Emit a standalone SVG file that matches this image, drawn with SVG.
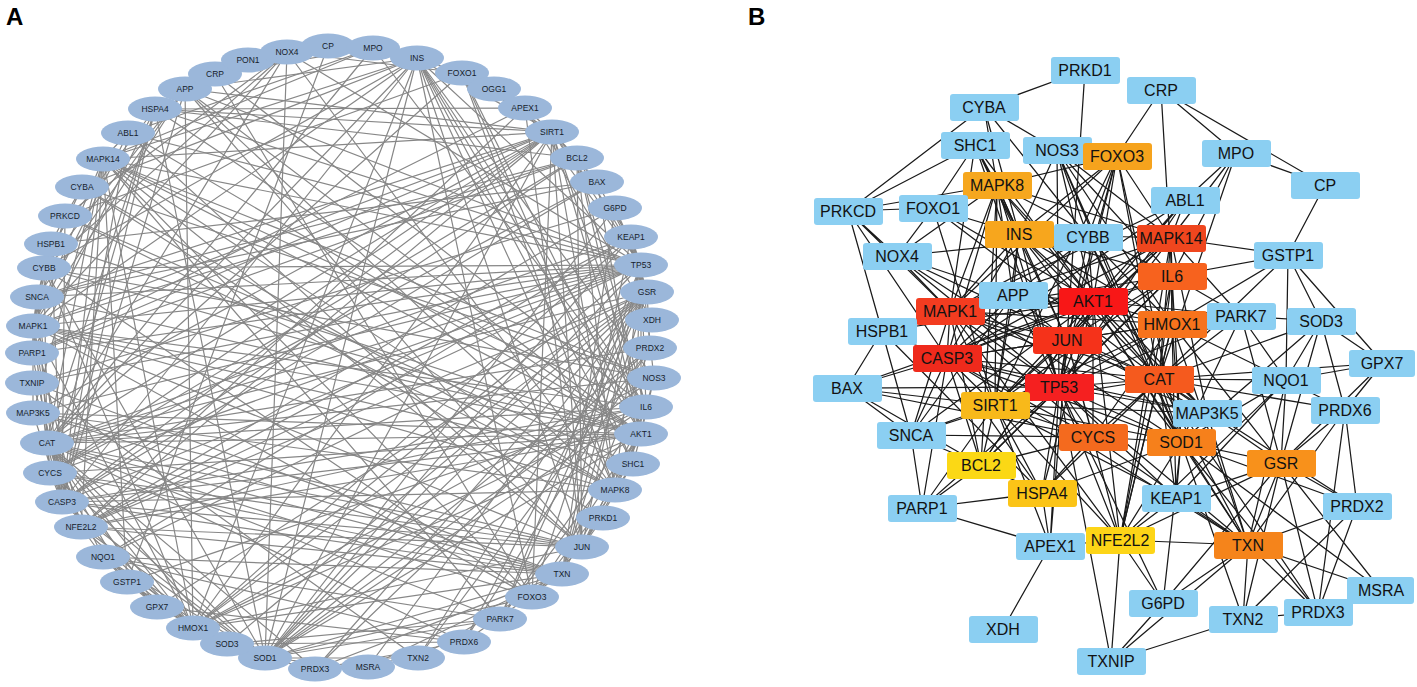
<svg xmlns="http://www.w3.org/2000/svg" width="1417" height="687" viewBox="0 0 1417 687">
<style>
.ea{fill:none;stroke:#878787;stroke-width:1.2}
.eb{fill:none;stroke:#1a1a1a;stroke-width:1.25}
.na ellipse{fill:#9bb7da}
.na text{font-family:"Liberation Sans",Arial,sans-serif;font-size:8.5px;fill:#161d2b;text-anchor:middle}
.nb rect{fill:#8bcff2}
.nb text{font-family:"Liberation Sans",Arial,sans-serif;font-size:16px;fill:#121212;text-anchor:middle}
.lab{font-family:"Liberation Sans",Arial,sans-serif;font-size:24px;font-weight:bold;fill:#000}
</style>
<rect width="1417" height="687" fill="#fff"/>
<text class="lab" x="6" y="25">A</text>
<text class="lab" x="748" y="25">B</text>
<g id="edges-A" class="ea">
<path d="M641 434L641 265M641 434L582 547M641 434L62 502M641 434L33 326M641 434L646 407M641 434L103 159M641 434L47 443M641 434L193 628M641 434L50 473M641 434L265 658M641 434L417 58M641 434L615 490M641 434L532 597M641 434L552 132M641 434L577 158M641 434L155 109M641 434L81 527M641 434L562 574"/>
<path d="M641 265L582 547M641 265L62 502M641 265L33 326M641 265L646 407M641 265L103 159M641 265L47 443M641 265L193 628M641 265L50 473M641 265L265 658M641 265L417 58M641 265L615 490M641 265L532 597M641 265L552 132M641 265L577 158M641 265L155 109M641 265L81 527M641 265L562 574"/>
<path d="M582 547L62 502M582 547L33 326M582 547L646 407M582 547L103 159M582 547L47 443M582 547L193 628M582 547L50 473M582 547L417 58M582 547L615 490M582 547L532 597M582 547L552 132M582 547L577 158M582 547L81 527"/>
<path d="M62 502L33 326M62 502L646 407M62 502L103 159M62 502L47 443M62 502L193 628M62 502L50 473M62 502L265 658M62 502L417 58M62 502L615 490M62 502L552 132M62 502L577 158M62 502L155 109M62 502L562 574"/>
<path d="M33 326L646 407M33 326L103 159M33 326L47 443M33 326L193 628M33 326L50 473M33 326L417 58M33 326L615 490M33 326L532 597M33 326L552 132M33 326L577 158M33 326L81 527"/>
<path d="M646 407L103 159M646 407L47 443M646 407L193 628M646 407L265 658M646 407L417 58M646 407L615 490M646 407L552 132M646 407L577 158M646 407L81 527"/>
<path d="M103 159L47 443M103 159L193 628M103 159L417 58M103 159L615 490M103 159L532 597M103 159L552 132M103 159L81 527"/>
<path d="M47 443L193 628M47 443L50 473M47 443L265 658M47 443L417 58M47 443L552 132M47 443L155 109M47 443L81 527M47 443L562 574M47 443L647 292M47 443L532 597"/>
<path d="M193 628L265 658M193 628L417 58M193 628L552 132M193 628L81 527M193 628L562 574M193 628L647 292M193 628L50 473"/>
<path d="M50 473L265 658M50 473L552 132M50 473L577 158M50 473L155 109M50 473L562 574"/>
<path d="M265 658L417 58M265 658L552 132M265 658L81 527M265 658L562 574M265 658L647 292M265 658L155 109M265 658L532 597"/>
<path d="M417 58L615 490M417 58L532 597M417 58L552 132M615 490L532 597M615 490L552 132M615 490L577 158M552 132L577 158M552 132L155 109M552 132L81 527M552 132L532 597M577 158L155 109M81 527L562 574M81 527L647 292"/>
<path d="M562 574L647 292M562 574L368 667M562 574L418 658M562 574L315 669M562 574L615 208M562 574L32 383"/>
<path d="M603 518L82 187M603 518L582 547"/>
<path d="M82 187L65 216M82 187L615 490M82 187L654 378M82 187L44 268M82 187L417 58"/>
<path d="M633 464L65 216M633 464L462 73M633 464L615 490M633 464L417 58M633 464L641 434M633 464L33 326M633 464L641 265M633 464L582 547"/>
<path d="M654 378L417 58M654 378L641 434M654 378L44 268M654 378L47 443M654 378L265 658M654 378L193 628M654 378L646 407M654 378L641 265M654 378L103 159"/>
<path d="M215 74L532 597M215 74L646 407M215 74L373 48M215 74L328 46"/>
<path d="M373 48L128 133M373 48L103 159M373 48L646 407M373 48L328 46M373 48L47 443M328 46L127 582"/>
<path d="M128 133L103 159M128 133L641 434M128 133L641 265M128 133L582 547M128 133L33 326M128 133L62 502"/>
<path d="M65 216L462 73M65 216L615 490M65 216L51 244M65 216L33 326M65 216L287 52M65 216L62 502"/>
<path d="M462 73L615 490M462 73L417 58M462 73L641 434M462 73L287 52M462 73L552 132M462 73L47 443"/>
<path d="M44 268L417 58M44 268L287 52M44 268L185 89M44 268L641 434M44 268L47 443M44 268L193 628M44 268L265 658M44 268L641 265M44 268L33 326M44 268L532 597"/>
<path d="M127 582L103 159M127 582L646 407M127 582L193 628M127 582L103 557M127 582L227 644M127 582L157 607M127 582L47 443"/>
<path d="M287 52L185 89M287 52L33 326M287 52L641 265M287 52L47 443M287 52L265 658M287 52L615 490"/>
<path d="M185 89L417 58M185 89L641 434M185 89L33 326M185 89L62 502M185 89L641 265M185 89L582 547M185 89L37 297M185 89L615 490M185 89L552 132M185 89L193 628"/>
<path d="M500 619L103 159M500 619L227 644M500 619L646 407M500 619L103 557M500 619L647 292M500 619L265 658M500 619L47 443M500 619L641 434M500 619L641 265"/>
<path d="M227 644L265 658M227 644L47 443M227 644L157 607M227 644L103 557M227 644L647 292M227 644L464 642"/>
<path d="M51 244L33 326M51 244L641 434M51 244L62 502M51 244L37 297M51 244L597 182M51 244L155 109"/>
<path d="M157 607L103 557M157 607L647 292M157 607L47 443M157 607L464 642"/>
<path d="M103 557L47 443M103 557L81 527M103 557L647 292M103 557L631 237M103 557L193 628M103 557L562 574M103 557L265 658M103 557L464 642"/>
<path d="M597 182L62 502M597 182L641 265M597 182L577 158M597 182L37 297M597 182L641 434M597 182L50 473M597 182L552 132"/>
<path d="M33 413L562 574M33 413L582 547M33 413L103 159M33 413L615 490M33 413L62 502M33 413L641 434M33 413L641 265M33 413L33 326M33 413L552 132"/>
<path d="M464 642L650 348M464 642L647 292M464 642L562 574M464 642L315 669M464 642L47 443"/>
<path d="M37 297L62 502M37 297L32 353M37 297L50 473M37 297L577 158M37 297L641 434M37 297L33 326M37 297L552 132M37 297L641 265"/>
<path d="M647 292L650 348M647 292L368 667M647 292L418 658M647 292L615 208M647 292L315 669"/>
<path d="M32 353L577 158M32 353L155 109M32 353L525 108M32 353L62 502M32 353L552 132M32 353L641 265"/>
<path d="M631 237L81 527M631 237L265 658M631 237L562 574M631 237L47 443M631 237L193 628M631 237L552 132M631 237L641 265M631 237L647 292"/>
<path d="M650 348L562 574M650 348L418 658M650 348L315 669M650 348L47 443M650 348L265 658"/>
<path d="M525 108L652 320M525 108L155 109M525 108L552 132M525 108L641 265M525 108L81 527M525 108L582 547"/>
<path d="M368 667L315 669M368 667L265 658M615 208L32 383M615 208L81 527M615 208L265 658M615 208L641 265M418 658L315 669M418 658L32 383M418 658L265 658M32 383L81 527M32 383L641 265M315 669L265 658M315 669L47 443"/>
</g>
<g id="nodes-A">
<g id="A-CP" class="na"><ellipse cx="328" cy="46" rx="27" ry="12.5"/><text x="328" y="49">CP</text></g>
<g id="A-MPO" class="na"><ellipse cx="373" cy="48" rx="27" ry="12.5"/><text x="373" y="51">MPO</text></g>
<g id="A-INS" class="na"><ellipse cx="417" cy="58" rx="27" ry="12.5"/><text x="417" y="61">INS</text></g>
<g id="A-FOXO1" class="na"><ellipse cx="462" cy="73" rx="27" ry="12.5"/><text x="462" y="76">FOXO1</text></g>
<g id="A-OGG1" class="na"><ellipse cx="494" cy="89" rx="27" ry="12.5"/><text x="494" y="92">OGG1</text></g>
<g id="A-APEX1" class="na"><ellipse cx="525" cy="108" rx="27" ry="12.5"/><text x="525" y="111">APEX1</text></g>
<g id="A-SIRT1" class="na"><ellipse cx="552" cy="132" rx="27" ry="12.5"/><text x="552" y="135">SIRT1</text></g>
<g id="A-BCL2" class="na"><ellipse cx="577" cy="158" rx="27" ry="12.5"/><text x="577" y="161">BCL2</text></g>
<g id="A-BAX" class="na"><ellipse cx="597" cy="182" rx="27" ry="12.5"/><text x="597" y="185">BAX</text></g>
<g id="A-G6PD" class="na"><ellipse cx="615" cy="208" rx="27" ry="12.5"/><text x="615" y="211">G6PD</text></g>
<g id="A-KEAP1" class="na"><ellipse cx="631" cy="237" rx="27" ry="12.5"/><text x="631" y="240">KEAP1</text></g>
<g id="A-TP53" class="na"><ellipse cx="641" cy="265" rx="27" ry="12.5"/><text x="641" y="268">TP53</text></g>
<g id="A-GSR" class="na"><ellipse cx="647" cy="292" rx="27" ry="12.5"/><text x="647" y="295">GSR</text></g>
<g id="A-XDH" class="na"><ellipse cx="652" cy="320" rx="27" ry="12.5"/><text x="652" y="323">XDH</text></g>
<g id="A-PRDX2" class="na"><ellipse cx="650" cy="348" rx="27" ry="12.5"/><text x="650" y="351">PRDX2</text></g>
<g id="A-NOS3" class="na"><ellipse cx="654" cy="378" rx="27" ry="12.5"/><text x="654" y="381">NOS3</text></g>
<g id="A-IL6" class="na"><ellipse cx="646" cy="407" rx="27" ry="12.5"/><text x="646" y="410">IL6</text></g>
<g id="A-AKT1" class="na"><ellipse cx="641" cy="434" rx="27" ry="12.5"/><text x="641" y="437">AKT1</text></g>
<g id="A-SHC1" class="na"><ellipse cx="633" cy="464" rx="27" ry="12.5"/><text x="633" y="467">SHC1</text></g>
<g id="A-MAPK8" class="na"><ellipse cx="615" cy="490" rx="27" ry="12.5"/><text x="615" y="493">MAPK8</text></g>
<g id="A-PRKD1" class="na"><ellipse cx="603" cy="518" rx="27" ry="12.5"/><text x="603" y="521">PRKD1</text></g>
<g id="A-JUN" class="na"><ellipse cx="582" cy="547" rx="27" ry="12.5"/><text x="582" y="550">JUN</text></g>
<g id="A-TXN" class="na"><ellipse cx="562" cy="574" rx="27" ry="12.5"/><text x="562" y="577">TXN</text></g>
<g id="A-FOXO3" class="na"><ellipse cx="532" cy="597" rx="27" ry="12.5"/><text x="532" y="600">FOXO3</text></g>
<g id="A-PARK7" class="na"><ellipse cx="500" cy="619" rx="27" ry="12.5"/><text x="500" y="622">PARK7</text></g>
<g id="A-PRDX6" class="na"><ellipse cx="464" cy="642" rx="27" ry="12.5"/><text x="464" y="645">PRDX6</text></g>
<g id="A-TXN2" class="na"><ellipse cx="418" cy="658" rx="27" ry="12.5"/><text x="418" y="661">TXN2</text></g>
<g id="A-MSRA" class="na"><ellipse cx="368" cy="667" rx="27" ry="12.5"/><text x="368" y="670">MSRA</text></g>
<g id="A-PRDX3" class="na"><ellipse cx="315" cy="669" rx="27" ry="12.5"/><text x="315" y="672">PRDX3</text></g>
<g id="A-SOD1" class="na"><ellipse cx="265" cy="658" rx="27" ry="12.5"/><text x="265" y="661">SOD1</text></g>
<g id="A-SOD3" class="na"><ellipse cx="227" cy="644" rx="27" ry="12.5"/><text x="227" y="647">SOD3</text></g>
<g id="A-HMOX1" class="na"><ellipse cx="193" cy="628" rx="27" ry="12.5"/><text x="193" y="631">HMOX1</text></g>
<g id="A-GPX7" class="na"><ellipse cx="157" cy="607" rx="27" ry="12.5"/><text x="157" y="610">GPX7</text></g>
<g id="A-GSTP1" class="na"><ellipse cx="127" cy="582" rx="27" ry="12.5"/><text x="127" y="585">GSTP1</text></g>
<g id="A-NQO1" class="na"><ellipse cx="103" cy="557" rx="27" ry="12.5"/><text x="103" y="560">NQO1</text></g>
<g id="A-NFE2L2" class="na"><ellipse cx="81" cy="527" rx="27" ry="12.5"/><text x="81" y="530">NFE2L2</text></g>
<g id="A-CASP3" class="na"><ellipse cx="62" cy="502" rx="27" ry="12.5"/><text x="62" y="505">CASP3</text></g>
<g id="A-CYCS" class="na"><ellipse cx="50" cy="473" rx="27" ry="12.5"/><text x="50" y="476">CYCS</text></g>
<g id="A-CAT" class="na"><ellipse cx="47" cy="443" rx="27" ry="12.5"/><text x="47" y="446">CAT</text></g>
<g id="A-MAP3K5" class="na"><ellipse cx="33" cy="413" rx="27" ry="12.5"/><text x="33" y="416">MAP3K5</text></g>
<g id="A-TXNIP" class="na"><ellipse cx="32" cy="383" rx="27" ry="12.5"/><text x="32" y="386">TXNIP</text></g>
<g id="A-PARP1" class="na"><ellipse cx="32" cy="353" rx="27" ry="12.5"/><text x="32" y="356">PARP1</text></g>
<g id="A-MAPK1" class="na"><ellipse cx="33" cy="326" rx="27" ry="12.5"/><text x="33" y="329">MAPK1</text></g>
<g id="A-SNCA" class="na"><ellipse cx="37" cy="297" rx="27" ry="12.5"/><text x="37" y="300">SNCA</text></g>
<g id="A-CYBB" class="na"><ellipse cx="44" cy="268" rx="27" ry="12.5"/><text x="44" y="271">CYBB</text></g>
<g id="A-HSPB1" class="na"><ellipse cx="51" cy="244" rx="27" ry="12.5"/><text x="51" y="247">HSPB1</text></g>
<g id="A-PRKCD" class="na"><ellipse cx="65" cy="216" rx="27" ry="12.5"/><text x="65" y="219">PRKCD</text></g>
<g id="A-CYBA" class="na"><ellipse cx="82" cy="187" rx="27" ry="12.5"/><text x="82" y="190">CYBA</text></g>
<g id="A-MAPK14" class="na"><ellipse cx="103" cy="159" rx="27" ry="12.5"/><text x="103" y="162">MAPK14</text></g>
<g id="A-ABL1" class="na"><ellipse cx="128" cy="133" rx="27" ry="12.5"/><text x="128" y="136">ABL1</text></g>
<g id="A-HSPA4" class="na"><ellipse cx="155" cy="109" rx="27" ry="12.5"/><text x="155" y="112">HSPA4</text></g>
<g id="A-APP" class="na"><ellipse cx="185" cy="89" rx="27" ry="12.5"/><text x="185" y="92">APP</text></g>
<g id="A-CRP" class="na"><ellipse cx="215" cy="74" rx="27" ry="12.5"/><text x="215" y="77">CRP</text></g>
<g id="A-PON1" class="na"><ellipse cx="248" cy="60" rx="27" ry="12.5"/><text x="248" y="63">PON1</text></g>
<g id="A-NOX4" class="na"><ellipse cx="287" cy="52" rx="27" ry="12.5"/><text x="287" y="55">NOX4</text></g>
</g>
<g id="edges-B" class="eb">
<path d="M1093 301L1059 387M1093 301L1067 340M1093 301L947 358M1093 301L950 311M1093 301L1172 276M1093 301L1171 238M1093 301L1159 379M1093 301L1172 324M1093 301L1093 437M1093 301L1181 442M1093 301L1019 234M1093 301L997 185M1093 301L1117 156M1093 301L995 405M1093 301L981 465M1093 301L1042 493M1093 301L1120 540M1093 301L1248 545"/>
<path d="M1059 387L1067 340M1059 387L947 358M1059 387L950 311M1059 387L1172 276M1059 387L1171 238M1059 387L1159 379M1059 387L1172 324M1059 387L1093 437M1059 387L1181 442M1059 387L1019 234M1059 387L997 185M1059 387L1117 156M1059 387L995 405M1059 387L981 465M1059 387L1042 493M1059 387L1120 540M1059 387L1248 545"/>
<path d="M1067 340L947 358M1067 340L950 311M1067 340L1172 276M1067 340L1171 238M1067 340L1159 379M1067 340L1172 324M1067 340L1093 437M1067 340L1019 234M1067 340L997 185M1067 340L1117 156M1067 340L995 405M1067 340L981 465M1067 340L1120 540"/>
<path d="M947 358L950 311M947 358L1172 276M947 358L1171 238M947 358L1159 379M947 358L1172 324M947 358L1093 437M947 358L1181 442M947 358L1019 234M947 358L997 185M947 358L995 405M947 358L981 465M947 358L1042 493M947 358L1248 545"/>
<path d="M950 311L1172 276M950 311L1171 238M950 311L1159 379M950 311L1172 324M950 311L1093 437M950 311L1019 234M950 311L997 185M950 311L1117 156M950 311L995 405M950 311L981 465M950 311L1120 540"/>
<path d="M1172 276L1171 238M1172 276L1159 379M1172 276L1172 324M1172 276L1181 442M1172 276L1019 234M1172 276L997 185M1172 276L995 405M1172 276L981 465M1172 276L1120 540"/>
<path d="M1171 238L1159 379M1171 238L1172 324M1171 238L1019 234M1171 238L997 185M1171 238L1117 156M1171 238L995 405M1171 238L1120 540"/>
<path d="M1159 379L1172 324M1159 379L1093 437M1159 379L1181 442M1159 379L1019 234M1159 379L995 405M1159 379L1042 493M1159 379L1120 540M1159 379L1248 545M1159 379L1281 463M1159 379L1117 156"/>
<path d="M1172 324L1181 442M1172 324L1019 234M1172 324L995 405M1172 324L1120 540M1172 324L1248 545M1172 324L1281 463M1172 324L1093 437"/>
<path d="M1093 437L1181 442M1093 437L995 405M1093 437L981 465M1093 437L1042 493M1093 437L1248 545"/>
<path d="M1181 442L1019 234M1181 442L995 405M1181 442L1120 540M1181 442L1248 545M1181 442L1281 463M1181 442L1042 493M1181 442L1117 156"/>
<path d="M1019 234L997 185M1019 234L1117 156M1019 234L995 405M997 185L1117 156M997 185L995 405M997 185L981 465M995 405L981 465M995 405L1042 493M995 405L1120 540M995 405L1117 156M981 465L1042 493M1120 540L1248 545M1120 540L1281 463"/>
<path d="M1248 545L1281 463M1248 545L1381 590M1248 545L1243 619M1248 545L1318 612M1248 545L1163 603M1248 545L1111 661"/>
<path d="M1085 70L984 107M1085 70L1067 340"/>
<path d="M984 107L848 211M984 107L997 185M984 107L1057 150M984 107L1088 237M984 107L1019 234"/>
<path d="M975 145L848 211M975 145L933 208M975 145L997 185M975 145L1019 234M975 145L1093 301M975 145L950 311M975 145L1059 387M975 145L1067 340"/>
<path d="M1057 150L1019 234M1057 150L1093 301M1057 150L1088 237M1057 150L1159 379M1057 150L1181 442M1057 150L1172 324M1057 150L1172 276M1057 150L1059 387M1057 150L1171 238"/>
<path d="M1161 90L1117 156M1161 90L1172 276M1161 90L1236 153M1161 90L1325 185"/>
<path d="M1236 153L1185 200M1236 153L1171 238M1236 153L1172 276M1236 153L1325 185M1236 153L1159 379M1325 185L1288 255"/>
<path d="M1185 200L1171 238M1185 200L1093 301M1185 200L1059 387M1185 200L1067 340M1185 200L950 311M1185 200L947 358"/>
<path d="M848 211L933 208M848 211L997 185M848 211L882 331M848 211L950 311M848 211L897 256M848 211L947 358"/>
<path d="M933 208L997 185M933 208L1019 234M933 208L1093 301M933 208L897 256M933 208L995 405M933 208L1159 379"/>
<path d="M1088 237L1019 234M1088 237L897 256M1088 237L1013 295M1088 237L1093 301M1088 237L1159 379M1088 237L1172 324M1088 237L1181 442M1088 237L1059 387M1088 237L950 311M1088 237L1117 156"/>
<path d="M1288 255L1171 238M1288 255L1172 276M1288 255L1172 324M1288 255L1286 380M1288 255L1321 321M1288 255L1383 363M1288 255L1159 379"/>
<path d="M897 256L1013 295M897 256L950 311M897 256L1059 387M897 256L1159 379M897 256L1181 442M897 256L997 185"/>
<path d="M1013 295L1019 234M1013 295L1093 301M1013 295L950 311M1013 295L947 358M1013 295L1059 387M1013 295L1067 340M1013 295L911 435M1013 295L997 185M1013 295L995 405M1013 295L1172 324"/>
<path d="M1241 316L1171 238M1241 316L1321 321M1241 316L1172 276M1241 316L1286 380M1241 316L1281 463M1241 316L1181 442M1241 316L1159 379M1241 316L1093 301M1241 316L1059 387"/>
<path d="M1321 321L1181 442M1321 321L1159 379M1321 321L1383 363M1321 321L1286 380M1321 321L1281 463M1321 321L1345 410"/>
<path d="M882 331L950 311M882 331L1093 301M882 331L947 358M882 331L911 435M882 331L847 388M882 331L1042 493"/>
<path d="M1383 363L1286 380M1383 363L1281 463M1383 363L1159 379M1383 363L1345 410"/>
<path d="M1286 380L1159 379M1286 380L1120 540M1286 380L1281 463M1286 380L1176 498M1286 380L1172 324M1286 380L1248 545M1286 380L1181 442M1286 380L1345 410"/>
<path d="M847 388L947 358M847 388L1059 387M847 388L981 465M847 388L911 435M847 388L1093 301M847 388L1093 437M847 388L995 405"/>
<path d="M1207 413L1248 545M1207 413L1067 340M1207 413L1171 238M1207 413L997 185M1207 413L947 358M1207 413L1093 301M1207 413L1059 387M1207 413L950 311M1207 413L995 405"/>
<path d="M1345 410L1357 506M1345 410L1281 463M1345 410L1248 545M1345 410L1318 612M1345 410L1159 379"/>
<path d="M911 435L947 358M911 435L922 508M911 435L1093 437M911 435L981 465M911 435L1093 301M911 435L950 311M911 435L995 405M911 435L1059 387"/>
<path d="M1281 463L1357 506M1281 463L1381 590M1281 463L1243 619M1281 463L1163 603M1281 463L1318 612"/>
<path d="M922 508L981 465M922 508L1042 493M922 508L1050 546M922 508L947 358M922 508L995 405M922 508L1059 387"/>
<path d="M1176 498L1120 540M1176 498L1181 442M1176 498L1248 545M1176 498L1159 379M1176 498L1172 324M1176 498L995 405M1176 498L1059 387M1176 498L1281 463"/>
<path d="M1357 506L1248 545M1357 506L1243 619M1357 506L1318 612M1357 506L1159 379M1357 506L1181 442"/>
<path d="M1050 546L1003 629M1050 546L1042 493M1050 546L995 405M1050 546L1059 387M1050 546L1120 540M1050 546L1067 340"/>
<path d="M1381 590L1318 612M1381 590L1181 442M1163 603L1111 661M1163 603L1120 540M1163 603L1181 442M1163 603L1059 387M1243 619L1318 612M1243 619L1111 661M1243 619L1181 442M1111 661L1120 540M1111 661L1059 387M1318 612L1181 442M1318 612L1159 379"/>
</g>
<g id="nodes-B">
<g id="B-PRKD1" class="nb"><rect x="1051" y="57" width="69" height="27" rx="3"/><text x="1085" y="76">PRKD1</text></g>
<g id="B-CYBA" class="nb"><rect x="950" y="94" width="69" height="27" rx="3"/><text x="984" y="113">CYBA</text></g>
<g id="B-SHC1" class="nb"><rect x="941" y="132" width="69" height="27" rx="3"/><text x="975" y="151">SHC1</text></g>
<g id="B-NOS3" class="nb"><rect x="1023" y="137" width="69" height="27" rx="3"/><text x="1057" y="156">NOS3</text></g>
<g id="B-FOXO3" class="nb"><rect x="1083" y="143" width="69" height="27" rx="3" style="fill:#f6a31d"/><text x="1117" y="162">FOXO3</text></g>
<g id="B-CRP" class="nb"><rect x="1127" y="77" width="69" height="27" rx="3"/><text x="1161" y="96">CRP</text></g>
<g id="B-MPO" class="nb"><rect x="1202" y="140" width="69" height="27" rx="3"/><text x="1236" y="159">MPO</text></g>
<g id="B-CP" class="nb"><rect x="1291" y="172" width="69" height="27" rx="3"/><text x="1325" y="191">CP</text></g>
<g id="B-MAPK8" class="nb"><rect x="963" y="172" width="69" height="27" rx="3" style="fill:#f6a71e"/><text x="997" y="191">MAPK8</text></g>
<g id="B-PRKCD" class="nb"><rect x="814" y="198" width="69" height="27" rx="3"/><text x="848" y="217">PRKCD</text></g>
<g id="B-FOXO1" class="nb"><rect x="899" y="195" width="69" height="27" rx="3"/><text x="933" y="214">FOXO1</text></g>
<g id="B-ABL1" class="nb"><rect x="1151" y="187" width="69" height="27" rx="3"/><text x="1185" y="206">ABL1</text></g>
<g id="B-INS" class="nb"><rect x="985" y="221" width="69" height="27" rx="3" style="fill:#f7a61d"/><text x="1019" y="240">INS</text></g>
<g id="B-CYBB" class="nb"><rect x="1054" y="224" width="69" height="27" rx="3"/><text x="1088" y="243">CYBB</text></g>
<g id="B-MAPK14" class="nb"><rect x="1137" y="225" width="69" height="27" rx="3" style="fill:#ef461e"/><text x="1171" y="244">MAPK14</text></g>
<g id="B-GSTP1" class="nb"><rect x="1254" y="242" width="69" height="27" rx="3"/><text x="1288" y="261">GSTP1</text></g>
<g id="B-NOX4" class="nb"><rect x="863" y="243" width="69" height="27" rx="3"/><text x="897" y="262">NOX4</text></g>
<g id="B-IL6" class="nb"><rect x="1138" y="263" width="69" height="27" rx="3" style="fill:#f7621e"/><text x="1172" y="282">IL6</text></g>
<g id="B-MAPK1" class="nb"><rect x="916" y="298" width="69" height="27" rx="3" style="fill:#f33c20"/><text x="950" y="317">MAPK1</text></g>
<g id="B-APP" class="nb"><rect x="979" y="282" width="69" height="27" rx="3"/><text x="1013" y="301">APP</text></g>
<g id="B-AKT1" class="nb"><rect x="1059" y="288" width="69" height="27" rx="3" style="fill:#f81717"/><text x="1093" y="307">AKT1</text></g>
<g id="B-PARK7" class="nb"><rect x="1207" y="303" width="69" height="27" rx="3"/><text x="1241" y="322">PARK7</text></g>
<g id="B-SOD3" class="nb"><rect x="1287" y="308" width="69" height="27" rx="3"/><text x="1321" y="327">SOD3</text></g>
<g id="B-HMOX1" class="nb"><rect x="1138" y="311" width="69" height="27" rx="3" style="fill:#f7731c"/><text x="1172" y="330">HMOX1</text></g>
<g id="B-HSPB1" class="nb"><rect x="848" y="318" width="69" height="27" rx="3"/><text x="882" y="337">HSPB1</text></g>
<g id="B-JUN" class="nb"><rect x="1033" y="327" width="69" height="27" rx="3" style="fill:#f5321a"/><text x="1067" y="346">JUN</text></g>
<g id="B-CASP3" class="nb"><rect x="913" y="345" width="69" height="27" rx="3" style="fill:#ef2a1c"/><text x="947" y="364">CASP3</text></g>
<g id="B-GPX7" class="nb"><rect x="1349" y="350" width="66" height="27" rx="3"/><text x="1382" y="369">GPX7</text></g>
<g id="B-NQO1" class="nb"><rect x="1252" y="367" width="69" height="27" rx="3"/><text x="1286" y="386">NQO1</text></g>
<g id="B-CAT" class="nb"><rect x="1125" y="366" width="69" height="27" rx="3" style="fill:#f55a1e"/><text x="1159" y="385">CAT</text></g>
<g id="B-TP53" class="nb"><rect x="1025" y="374" width="69" height="27" rx="3" style="fill:#f52020"/><text x="1059" y="393">TP53</text></g>
<g id="B-BAX" class="nb"><rect x="813" y="375" width="69" height="27" rx="3"/><text x="847" y="394">BAX</text></g>
<g id="B-SIRT1" class="nb"><rect x="961" y="392" width="69" height="27" rx="3" style="fill:#f8b91a"/><text x="995" y="411">SIRT1</text></g>
<g id="B-MAP3K5" class="nb"><rect x="1173" y="400" width="69" height="27" rx="3"/><text x="1207" y="419">MAP3K5</text></g>
<g id="B-PRDX6" class="nb"><rect x="1311" y="397" width="69" height="27" rx="3"/><text x="1345" y="416">PRDX6</text></g>
<g id="B-SNCA" class="nb"><rect x="877" y="422" width="69" height="27" rx="3"/><text x="911" y="441">SNCA</text></g>
<g id="B-CYCS" class="nb"><rect x="1059" y="424" width="69" height="27" rx="3" style="fill:#f46a1e"/><text x="1093" y="443">CYCS</text></g>
<g id="B-SOD1" class="nb"><rect x="1147" y="429" width="69" height="27" rx="3" style="fill:#f6801b"/><text x="1181" y="448">SOD1</text></g>
<g id="B-BCL2" class="nb"><rect x="947" y="452" width="69" height="27" rx="3" style="fill:#fbd815"/><text x="981" y="471">BCL2</text></g>
<g id="B-GSR" class="nb"><rect x="1247" y="450" width="69" height="27" rx="3" style="fill:#f8911b"/><text x="1281" y="469">GSR</text></g>
<g id="B-HSPA4" class="nb"><rect x="1008" y="480" width="69" height="27" rx="3" style="fill:#fbc417"/><text x="1042" y="499">HSPA4</text></g>
<g id="B-PARP1" class="nb"><rect x="888" y="495" width="69" height="27" rx="3"/><text x="922" y="514">PARP1</text></g>
<g id="B-KEAP1" class="nb"><rect x="1142" y="485" width="69" height="27" rx="3"/><text x="1176" y="504">KEAP1</text></g>
<g id="B-PRDX2" class="nb"><rect x="1323" y="493" width="69" height="27" rx="3"/><text x="1357" y="512">PRDX2</text></g>
<g id="B-APEX1" class="nb"><rect x="1016" y="533" width="69" height="27" rx="3"/><text x="1050" y="552">APEX1</text></g>
<g id="B-NFE2L2" class="nb"><rect x="1086" y="527" width="69" height="27" rx="3" style="fill:#fdd517"/><text x="1120" y="546">NFE2L2</text></g>
<g id="B-TXN" class="nb"><rect x="1214" y="532" width="69" height="27" rx="3" style="fill:#f5841b"/><text x="1248" y="551">TXN</text></g>
<g id="B-MSRA" class="nb"><rect x="1347" y="577" width="67" height="27" rx="3"/><text x="1381" y="596">MSRA</text></g>
<g id="B-G6PD" class="nb"><rect x="1129" y="590" width="69" height="27" rx="3"/><text x="1163" y="609">G6PD</text></g>
<g id="B-TXN2" class="nb"><rect x="1209" y="606" width="69" height="27" rx="3"/><text x="1243" y="625">TXN2</text></g>
<g id="B-PRDX3" class="nb"><rect x="1284" y="599" width="69" height="27" rx="3"/><text x="1318" y="618">PRDX3</text></g>
<g id="B-XDH" class="nb"><rect x="969" y="616" width="69" height="27" rx="3"/><text x="1003" y="635">XDH</text></g>
<g id="B-TXNIP" class="nb"><rect x="1077" y="648" width="69" height="27" rx="3"/><text x="1111" y="667">TXNIP</text></g>
</g>
</svg>
